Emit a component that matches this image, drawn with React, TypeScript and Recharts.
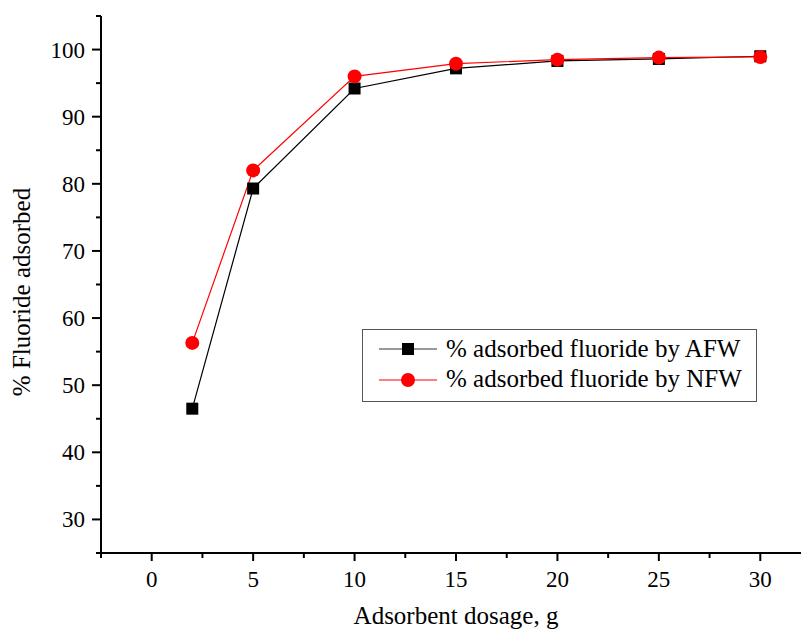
import React from "react";
import { LineChart, Line, XAxis, YAxis } from "recharts";

const dosage = [2, 5, 10, 15, 20, 25, 30];
const afw = [46.5, 79.3, 94.2, 97.2, 98.3, 98.6, 99.0];
const nfw = [56.3, 82.0, 96.0, 97.9, 98.5, 98.8, 98.9];

const xTicks = [-2.5, 0, 2.5, 5, 7.5, 10, 12.5, 15, 17.5, 20, 22.5, 25, 27.5, 30, 32.5];
const xMajor = [0, 5, 10, 15, 20, 25, 30];
const yTicks = [25, 30, 35, 40, 45, 50, 55, 60, 65, 70, 75, 80, 85, 90, 95, 100, 105];
const yMajor = [30, 40, 50, 60, 70, 80, 90, 100];

const seriesNames = ["% adsorbed fluoride by AFW", "% adsorbed fluoride by NFW"];

const data = dosage.map((d, i) => ({ dosage: d, afw: afw[i], nfw: nfw[i] }));

const FONT = "'Liberation Serif', 'Times New Roman', serif";

const XTick = (props: any) => {
  const { x, y, payload } = props;
  const major = xMajor.includes(payload.value);
  return (
    <g>
      <line x1={x} x2={x} y1={y} y2={y + (major ? 8 : 5)} stroke="#000" strokeWidth={2} />
      {major && (
        <text x={x} y={y + 34} textAnchor="middle" fontFamily={FONT} fontSize={23} fill="#000">
          {payload.value}
        </text>
      )}
    </g>
  );
};

const YTick = (props: any) => {
  const { x, y, payload } = props;
  const major = yMajor.includes(payload.value);
  return (
    <g>
      <line x1={x} x2={x - (major ? 9 : 5)} y1={y} y2={y} stroke="#000" strokeWidth={2} />
      {major && (
        <text x={x - 16} y={y + 8} textAnchor="end" fontFamily={FONT} fontSize={23} fill="#000">
          {payload.value}
        </text>
      )}
    </g>
  );
};

const SquareDot = (props: any) => {
  const { cx, cy } = props;
  if (cx == null || cy == null) return null;
  return <rect x={cx - 6} y={cy - 6} width={12} height={12} fill="#000" />;
};

const CircleDot = (props: any) => {
  const { cx, cy } = props;
  if (cx == null || cy == null) return null;
  return <circle cx={cx} cy={cy} r={7} fill="#ff0000" />;
};

// legend box drawn on top of the chart, like the original
const LegendBox = () => (
  <div
    style={{
      position: "absolute",
      left: 362,
      top: 329,
      width: 395,
      height: 73,
      border: "1.5px solid #555",
      boxSizing: "border-box",
      background: "#fff",
    }}
  >
    <svg width={392} height={70} style={{ display: "block" }}>
      <line x1={16} x2={74} y1={19} y2={19} stroke="#333" strokeWidth={1.2} />
      <rect x={39} y={13} width={12} height={12} fill="#000" />
      <text x={83} y={27} fontFamily={FONT} fontSize={25} fill="#000">
        {seriesNames[0]}
      </text>
      <line x1={16} x2={74} y1={50} y2={50} stroke="#ff0000" strokeWidth={1.2} />
      <circle cx={45} cy={50} r={7} fill="#ff0000" />
      <text x={83} y={57} fontFamily={FONT} fontSize={25} fill="#000">
        {seriesNames[1]}
      </text>
    </svg>
  </div>
);

export default function App() {
  return (
    <div
      style={{
        position: "fixed",
        left: 0,
        top: 0,
        width: 801,
        height: 631,
        overflow: "hidden",
        background: "#fff",
      }}
    >
      <LineChart width={840} height={631} data={data} margin={{ top: 16, right: 29, left: 0, bottom: 0 }}>
        <XAxis
          dataKey="dosage"
          type="number"
          domain={[-2.5, 32.5]}
          ticks={xTicks}
          interval={0}
          tickSize={0}
          tickMargin={0}
          tickLine={false}
          tick={<XTick />}
          height={78}
          axisLine={{ stroke: "#000", strokeWidth: 2 }}
          label={{
            content: () => (
              <text x={456} y={624} textAnchor="middle" fontFamily={FONT} fontSize={25} fill="#000">
                Adsorbent dosage, g
              </text>
            ),
          }}
        />
        <YAxis
          type="number"
          domain={[25, 105]}
          ticks={yTicks}
          interval={0}
          width={101}
          tickSize={0}
          tickMargin={0}
          tickLine={false}
          tick={<YTick />}
          axisLine={{ stroke: "#000", strokeWidth: 2 }}
          label={{
            content: () => (
              <text
                x={30}
                y={292}
                textAnchor="middle"
                transform="rotate(-90, 30, 292)"
                fontFamily={FONT}
                fontSize={25}
                fill="#000"
              >
                % Fluoride adsorbed
              </text>
            ),
          }}
        />
        <Line
          dataKey="afw"
          name={seriesNames[0]}
          stroke="#000"
          strokeWidth={1.2}
          dot={<SquareDot />}
          activeDot={false}
          isAnimationActive={false}
        />
        <Line
          dataKey="nfw"
          name={seriesNames[1]}
          stroke="#ff0000"
          strokeWidth={1.2}
          dot={<CircleDot />}
          activeDot={false}
          isAnimationActive={false}
        />
      </LineChart>
      <LegendBox />
    </div>
  );
}
